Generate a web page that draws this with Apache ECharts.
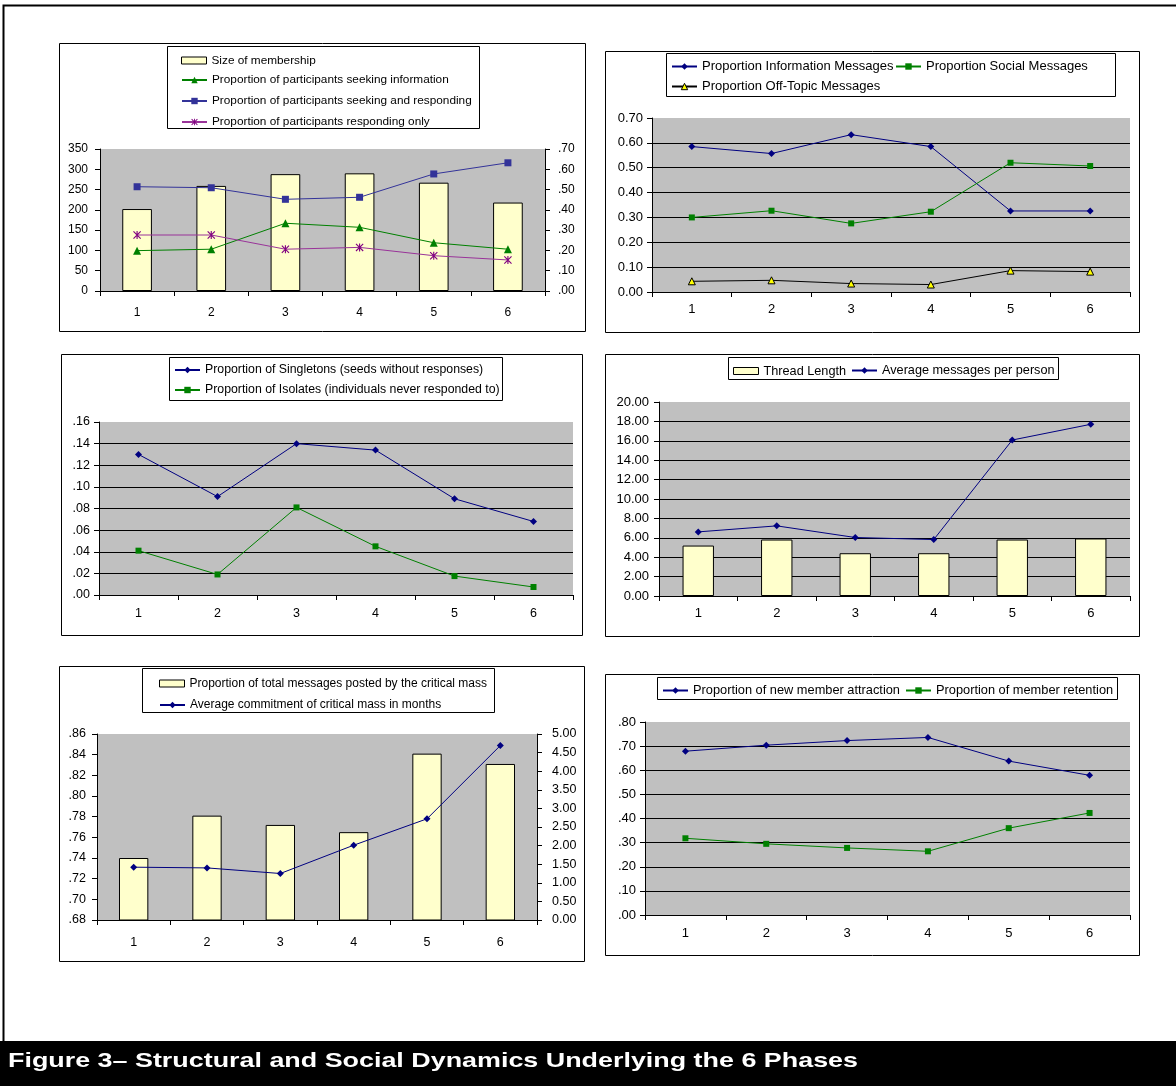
<!DOCTYPE html>
<html>
<head>
<meta charset="utf-8">
<script src="https://cdn.jsdelivr.net/npm/echarts/dist/echarts.min.js"></script>
<style>
  html, body { margin: 0; padding: 0; background: #fff; }
  #chart { width: 1176px; height: 1086px; }
</style>
</head>
<body>
<div id="chart"></div>
<script>
// ---- data -------------------------------------------------------------
const phases = ['1', '2', '3', '4', '5', '6'];

// membership and participant roles
const membershipSize     = [202, 259, 288, 290, 267, 218];
const seekingInfo        = [0.199, 0.206, 0.334, 0.314, 0.238, 0.206];
const seekingResponding  = [0.514, 0.509, 0.452, 0.462, 0.577, 0.632];
const respondingOnly     = [0.276, 0.276, 0.206, 0.215, 0.174, 0.153];

// message content
const infoMessages       = [0.585, 0.557, 0.633, 0.585, 0.326, 0.326];
const socialMessages     = [0.300, 0.327, 0.276, 0.323, 0.520, 0.507];
const offTopicMessages   = [0.043, 0.047, 0.034, 0.030, 0.086, 0.082];

// singletons and isolates
const singletons         = [0.130, 0.091, 0.140, 0.134, 0.089, 0.068];
const isolates           = [0.041, 0.019, 0.081, 0.045, 0.0175, 0.0074];

// thread length and activity
const threadLength       = [5.20, 5.82, 4.41, 4.41, 5.82, 5.93];
const msgsPerPerson      = [6.61, 7.23, 6.03, 5.82, 16.08, 17.70];

// critical mass
const criticalMassShare  = [0.740, 0.781, 0.772, 0.765, 0.841, 0.831];
const criticalMassMonths = [1.42, 1.40, 1.25, 2.01, 2.72, 4.69];

// attraction and retention
const newMemberAttraction = [0.679, 0.704, 0.723, 0.736, 0.638, 0.579];
const memberRetention     = [0.318, 0.295, 0.278, 0.264, 0.360, 0.423];

// axis scales: [min, max, interval]
const membershipScale = [0, 350, 50];
const roleScale       = [0, 0.70, 0.10];
const messageScale    = [0, 0.70, 0.10];
const singletonScale  = [0, 0.16, 0.02];
const threadScale     = [0, 20, 2];
const shareScale      = [0.68, 0.86, 0.02];
const monthsScale     = [0, 5, 0.5];
const memberScale     = [0, 0.80, 0.10];

const captionText = 'Figure 3\u2013 Structural and Social Dynamics Underlying the 6 Phases';

// ---- helpers ----------------------------------------------------------
const FONT = '"Liberation Sans", Arial, Helvetica, sans-serif';
const ASTERISK = 'path://M4.3,0H5.7V10H4.3Z M0,1L1,0L10,9L9,10Z M9,0L10,1L1,10L0,9Z';

const fmtInt  = v => String(Math.round(v));
const fmt2    = v => v.toFixed(2);
const fmtDot  = v => v.toFixed(2).replace(/^0\./, '.');

const gridBoxes = [
  { left: 100, top: 149, width: 445, height: 142 },
  { left: 652, top: 118, width: 478, height: 174 },
  { left: 99,  top: 422, width: 474, height: 173 },
  { left: 659, top: 402, width: 471, height: 194 },
  { left: 97,  top: 734, width: 440, height: 186 },
  { left: 645, top: 722, width: 485, height: 193 }
];
const xLabelMargin = [16, 11, 12, 11, 16, 12];
const tickFont = [12, 13, 12.5, 13, 12.5, 13];

function categoryAxis(i) {
  return {
    type: 'category', gridIndex: i, data: phases, boundaryGap: true,
    axisLine: { show: true, lineStyle: { color: '#000', width: 1 } },
    axisTick: { show: true, interval: 0, length: 5, alignWithLabel: false, lineStyle: { color: '#000' } },
    axisLabel: { interval: 0, margin: xLabelMargin[i], color: '#000', fontSize: tickFont[i], fontFamily: FONT },
    splitLine: { show: false }
  };
}

function valueAxis(i, scale, fmt, opts) {
  opts = opts || {};
  return {
    type: 'value', gridIndex: i, position: opts.position || 'left',
    min: scale[0], max: scale[1], interval: scale[2],
    axisLine: { show: true, lineStyle: { color: '#000', width: 1 } },
    axisTick: { show: true, length: 5, lineStyle: { color: '#000' } },
    axisLabel: {
      formatter: fmt, margin: opts.margin, color: '#000',
      fontSize: tickFont[i], fontFamily: FONT, showMinLabel: true, showMaxLabel: true
    },
    splitLine: {
      show: !!opts.grid, showMinLine: false, showMaxLine: false,
      lineStyle: { color: '#000', width: 1 }
    }
  };
}

function barSeries(name, xi, yi, data) {
  return {
    type: 'bar', name, xAxisIndex: xi, yAxisIndex: yi, data,
    barWidth: '40%', clip: true,
    itemStyle: { color: '#FFFFCC', borderColor: '#000', borderWidth: 1 },
    emphasis: { disabled: true }
  };
}

function lineSeries(name, xi, yi, data, symbol, size, markColor, lineColor, extra) {
  return Object.assign({
    type: 'line', name, xAxisIndex: xi, yAxisIndex: yi, data,
    symbol, symbolSize: size, showAllSymbol: true,
    itemStyle: { color: markColor },
    lineStyle: { color: lineColor || markColor, width: 1 },
    emphasis: { disabled: true }
  }, extra || {});
}

function legendEntry(name, x, cy, fontSize, extra) {
  return Object.assign({
    show: true, left: x, top: cy - 4, padding: 0, orient: 'horizontal',
    itemWidth: 25, itemHeight: 8, selectedMode: false, data: [name],
    textStyle: { fontSize, color: '#000', fontFamily: FONT, lineHeight: 8 }
  }, extra || {});
}
function barLegendEntry(name, x, cy, fontSize) {
  return legendEntry(name, x, cy, fontSize, {
    data: [{ name, icon: 'rect' }],
    itemHeight: 7, top: cy - 3.5,
    itemStyle: { borderColor: '#000', borderWidth: 1 }
  });
}

function boxRect(x1, y1, x2, y2) {
  return {
    type: 'rect', silent: true, z: 0,
    shape: { x: x1 + 0.5, y: y1 + 0.5, width: x2 - x1, height: y2 - y1 },
    style: { fill: 'none', stroke: '#000', lineWidth: 1 }
  };
}

// ---- chart ------------------------------------------------------------
const chart = echarts.init(document.getElementById('chart'), null, { renderer: 'canvas' });

const option = {
  animation: false,
  backgroundColor: '#fff',
  textStyle: { fontFamily: FONT },
  tooltip: { show: false },
  grid: gridBoxes.map(g => Object.assign({ show: true, backgroundColor: '#C0C0C0', borderWidth: 0, containLabel: false }, g)),
  xAxis: [0, 1, 2, 3, 4, 5].map(categoryAxis),
  yAxis: [
    valueAxis(0, membershipScale, fmtInt, { margin: 12 }),
    valueAxis(0, roleScale, fmtDot, { position: 'right', margin: 13 }),
    valueAxis(1, messageScale, fmt2, { margin: 9, grid: true }),
    valueAxis(2, singletonScale, fmtDot, { margin: 9, grid: true }),
    valueAxis(3, threadScale, fmt2, { margin: 10, grid: true }),
    valueAxis(4, shareScale, fmtDot, { margin: 11 }),
    valueAxis(4, monthsScale, fmt2, { position: 'right', margin: 15 }),
    valueAxis(5, memberScale, fmtDot, { margin: 9, grid: true })
  ],
  series: [
    barSeries('Size of membership', 0, 0, membershipSize),
    lineSeries('Proportion of participants seeking information', 0, 1, seekingInfo, 'triangle', 8, '#008000'),
    lineSeries('Proportion of participants seeking and responding', 0, 1, seekingResponding, 'rect', 7, '#333399'),
    lineSeries('Proportion of participants responding only', 0, 1, respondingOnly, ASTERISK, 8, '#800080', '#993399'),

    lineSeries('Proportion Information Messages', 1, 2, infoMessages, 'diamond', 7, '#000080'),
    lineSeries('Proportion Social Messages', 1, 2, socialMessages, 'rect', 6, '#008000'),
    lineSeries('Proportion Off-Topic Messages', 1, 2, offTopicMessages, 'triangle', 7, '#FFFF00', '#000',
      { itemStyle: { color: '#FFFF00', borderColor: '#000', borderWidth: 1 } }),

    lineSeries('Proportion of Singletons (seeds without responses)', 2, 3, singletons, 'diamond', 7, '#000080'),
    lineSeries('Proportion of Isolates (individuals never responded to)', 2, 3, isolates, 'rect', 6, '#008000'),

    barSeries('Thread Length', 3, 4, threadLength),
    lineSeries('Average messages per person', 3, 4, msgsPerPerson, 'diamond', 7, '#000080'),

    barSeries('Proportion of total messages posted by the critical mass', 4, 5, criticalMassShare),
    lineSeries('Average commitment of critical mass in months', 4, 6, criticalMassMonths, 'diamond', 7, '#000080'),

    lineSeries('Proportion of new member attraction', 5, 7, newMemberAttraction, 'diamond', 7, '#000080'),
    lineSeries('Proportion of member retention', 5, 7, memberRetention, 'rect', 6, '#008000')
  ],
  legend: [
    barLegendEntry('Size of membership', 181, 58, 11.8),
    legendEntry('Proportion of participants seeking information', 181, 78, 11.8),
    legendEntry('Proportion of participants seeking and responding', 181, 99, 11.8),
    legendEntry('Proportion of participants responding only', 181, 120, 11.8),

    legendEntry('Proportion Information Messages', 671, 64, 13),
    legendEntry('Proportion Social Messages', 895, 64, 13),
    legendEntry('Proportion Off-Topic Messages', 671, 84, 13,
      { itemStyle: { borderColor: '#000', borderWidth: 1 } }),

    legendEntry('Proportion of Singletons (seeds without responses)', 174, 368, 12.3),
    legendEntry('Proportion of Isolates (individuals never responded to)', 174, 388, 12.3),

    barLegendEntry('Thread Length', 733, 368, 12.7),
    legendEntry('Average messages per person', 851, 368, 12.7),

    barLegendEntry('Proportion of total messages posted by the critical mass', 159, 681, 12),
    legendEntry('Average commitment of critical mass in months', 159, 703, 12),

    legendEntry('Proportion of new member attraction', 662, 688, 12.8),
    legendEntry('Proportion of member retention', 905, 688, 12.8)
  ],
  graphic: [
    // page frame
    {
      type: 'polyline', silent: true,
      shape: { points: [[3.5, 1041], [3.5, 5.5], [1176, 5.5]] },
      style: { stroke: '#000', lineWidth: 2, fill: 'none' }
    },
    // panel frames
    boxRect(59, 43, 585, 331),
    boxRect(605, 51, 1139, 332),
    boxRect(61, 354, 582, 635),
    boxRect(605, 354, 1139, 636),
    boxRect(59, 666, 584, 961),
    boxRect(605, 674, 1139, 955),
    // legend frames
    boxRect(167, 46, 479, 128),
    boxRect(666, 53, 1115, 96),
    boxRect(169, 357, 502, 400),
    boxRect(728, 357, 1058, 379),
    boxRect(142, 668, 494, 712),
    boxRect(657, 677, 1117, 699),
    // caption bar
    {
      type: 'rect', silent: true,
      shape: { x: 0, y: 1041, width: 1176, height: 45 },
      style: { fill: '#000' }
    },
    {
      type: 'text', silent: true, x: 8, y: 1061, scaleX: 1.28, scaleY: 1,
      style: {
        text: captionText, x: 0, y: 0, fill: '#fff',
        font: 'bold 21px ' + FONT,
        textVerticalAlign: 'middle', verticalAlign: 'middle'
      }
    }
  ]
};

chart.setOption(option);
</script>
</body>
</html>
